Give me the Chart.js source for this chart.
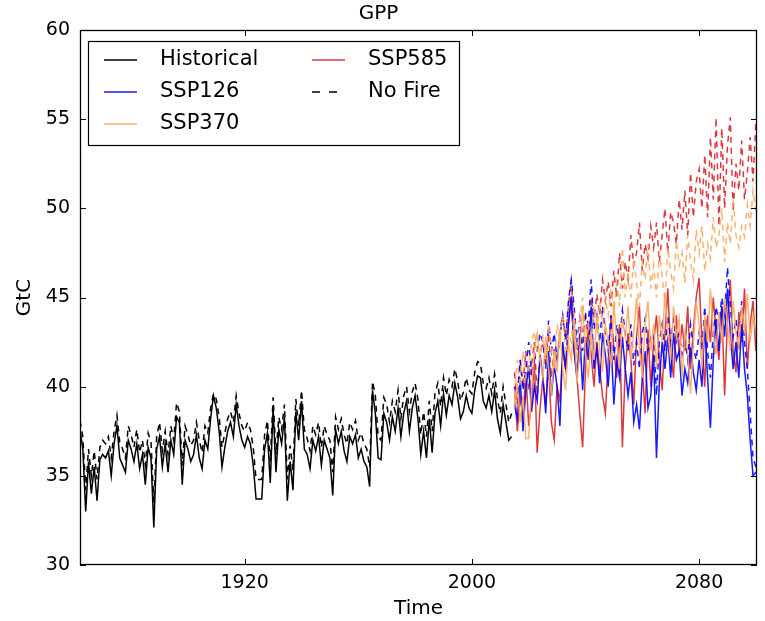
<!DOCTYPE html>
<html>
<head>
<meta charset="utf-8">
<script src="https://cdn.jsdelivr.net/npm/chart.js@4/dist/chart.umd.min.js"></script>
<style>
  html, body { margin: 0; padding: 0; background: #fff; }
  #gpp { display: block; }
</style>
</head>
<body>
<canvas id="gpp" width="765" height="621"></canvas>
<script>
// years
const histStart = 1862
const sspStart = 2015
const xTicks = [1920, 2000, 2080]

// historical GPP (GtC), 1862-2014
const histGpp = [
  37.6, 36.5, 33.0, 35.8, 34.0, 35.5, 33.6, 35.9, 36.2, 36.0,
  36.4, 35.0, 36.8, 37.8, 36.0, 35.6, 35.2, 37.0, 36.5, 35.8,
  36.8, 35.4, 36.2, 34.5, 36.6, 36.0, 32.1, 36.5, 37.2, 35.5,
  36.8, 35.2, 37.0, 36.2, 38.3, 38.0, 34.5, 37.0, 36.5, 35.8,
  36.2, 37.3, 36.0, 35.4, 37.0, 36.5, 38.2, 39.5, 38.8, 37.5,
  35.5, 36.6, 37.5, 38.0, 37.2, 39.0, 37.8, 37.0, 36.6, 37.2,
  36.8, 35.6, 33.7, 33.7, 33.7, 36.5, 37.4, 34.6, 38.8, 35.2,
  37.6, 36.8, 38.3, 33.6, 35.8, 34.2, 38.6, 37.0, 39.2, 36.5,
  36.2, 35.4, 37.0, 36.4, 37.2, 35.6, 37.0, 36.5, 36.0, 33.9,
  37.6, 36.8, 37.5, 36.4, 35.8, 37.2, 36.8, 37.3, 36.0, 36.5,
  35.8, 35.5, 34.4, 39.8, 38.5, 36.0, 35.9, 38.5, 38.0, 37.0,
  38.3, 37.5, 38.8, 37.2, 38.5, 39.2, 37.5, 38.8, 39.5, 38.2,
  36.2, 37.5, 36.0, 38.2, 36.3, 38.5, 39.2, 37.8, 39.6, 38.4,
  39.5, 39.0, 40.2, 39.4, 38.2, 38.6, 39.5, 38.8, 38.5, 39.8,
  40.6, 40.5, 39.2, 38.8, 39.5, 38.6, 39.8, 38.2, 37.4, 39.0,
  38.0, 37.0, 37.2
]
const histNoFire = [
  38.1, 37.2, 34.2, 36.5, 35.0, 36.4, 34.8, 36.6, 37.0, 36.8,
  37.2, 36.0, 37.5, 38.4, 36.9, 36.5, 36.0, 37.8, 37.3, 36.6,
  37.6, 36.3, 37.0, 35.6, 37.4, 36.9, 33.5, 37.2, 38.0, 36.4,
  37.5, 36.2, 37.8, 37.0, 39.1, 38.6, 35.6, 37.8, 37.3, 36.7,
  37.0, 38.0, 37.0, 36.3, 37.8, 37.4, 38.8, 39.6, 39.3, 38.3,
  36.6, 37.4, 38.2, 38.6, 38.0, 39.5, 38.5, 37.8, 37.5, 38.0,
  37.6, 36.6, 34.8, 34.8, 34.8, 37.3, 38.1, 35.8, 39.4, 36.2,
  38.3, 37.6, 39.0, 34.8, 36.7, 35.3, 39.3, 37.8, 39.8, 37.6,
  37.1, 36.4, 37.8, 37.3, 38.0, 36.6, 37.8, 37.3, 37.0, 35.2,
  38.3, 37.6, 38.2, 37.3, 36.8, 38.0, 37.6, 38.1, 37.0, 37.4,
  36.8, 36.5, 35.5, 40.3, 39.5, 37.2, 37.0, 39.4, 39.0, 38.0,
  39.2, 38.6, 39.8, 38.2, 39.5, 40.0, 38.6, 39.7, 40.2, 39.3,
  37.3, 38.6, 37.2, 39.2, 37.5, 39.6, 40.2, 38.9, 40.5, 39.5,
  40.4, 40.0, 41.0, 40.3, 39.2, 39.7, 40.5, 39.8, 39.6, 40.8,
  41.4, 41.3, 40.2, 39.9, 40.5, 39.6, 40.7, 39.3, 38.5, 40.0,
  39.0, 38.0, 38.5
]

// scenarios, 2015-2100
const ssp126 = [
  39.0, 38.2, 40.5, 37.5, 39.8, 41.2, 38.6, 40.0, 39.2, 41.8,
  40.5, 38.5, 42.0, 39.5, 41.2, 40.0, 37.8, 42.5, 41.0, 43.5,
  45.0, 42.0, 40.5, 43.0, 39.8, 42.8, 41.5, 44.5, 41.0, 42.2,
  40.2, 43.0, 41.8, 40.0, 42.5, 39.0, 41.5, 40.5, 42.8, 41.0,
  39.5, 40.8, 38.0, 39.0, 37.6, 40.5, 42.0, 38.8, 39.5, 41.8,
  36.0, 40.2, 42.5, 41.0, 42.8, 40.5, 43.0, 41.5, 42.0, 39.5,
  41.0, 40.2, 42.2, 40.8, 39.8, 41.5, 40.0, 43.5, 40.5, 37.7,
  41.5, 43.8, 42.0, 44.5, 42.8, 45.5, 43.0, 41.0, 42.5, 40.5,
  43.5, 41.0, 39.5, 37.0, 35.0, 35.2
]
const ssp126NoFire = [
  40.0, 39.5, 41.5, 39.8, 41.0, 42.5, 40.8, 41.5, 42.0, 43.0,
  42.5, 41.0, 43.7, 42.0, 43.0, 41.5, 42.8, 44.0, 42.5, 44.8,
  46.0, 44.5, 42.5, 43.8, 42.0, 44.0, 43.5, 46.0, 43.2, 44.0,
  42.5, 44.5, 43.0, 42.0, 44.0, 41.5, 43.5, 42.5, 44.3, 43.0,
  42.0, 43.5, 41.2, 42.5, 41.0, 43.0, 43.8, 42.0, 42.8, 43.0,
  39.5, 42.5, 43.5, 42.0, 44.0, 42.5, 43.8, 42.5, 43.0, 41.8,
  42.8, 41.5, 43.5, 42.2, 41.5, 43.0, 42.0, 44.5, 42.0, 40.5,
  43.0, 44.5, 43.5, 45.0, 44.0, 46.7, 44.5, 42.8, 43.8, 42.0,
  44.8, 42.5, 41.0, 38.5, 36.0, 35.5
]
const ssp370 = [
  38.8, 40.2, 38.0, 39.5, 37.1, 37.1, 39.8, 42.0, 43.0, 41.5,
  40.5, 42.8, 41.0, 39.5, 42.0, 40.8, 43.2, 41.0, 39.8, 42.5,
  41.5, 43.5, 40.2, 42.0, 44.5, 41.8, 40.5, 43.0, 41.5, 44.0,
  42.0, 40.8, 43.5, 42.5, 41.2, 44.8, 42.5, 41.0, 43.8, 42.8,
  44.5, 41.5, 43.0, 45.0, 42.2, 40.5, 43.5, 44.8, 42.0, 43.5,
  41.0, 44.0, 42.5, 45.2, 43.0, 41.5, 44.5, 42.8, 43.8, 40.5,
  43.0, 42.0, 39.6, 42.5, 44.8, 43.5, 41.0, 44.0, 42.5, 45.5,
  43.0, 41.8, 44.2, 42.5, 45.0, 43.5, 42.0, 44.8, 43.0, 42.2,
  44.5, 43.0, 45.2, 42.5, 44.0, 43.0
]
const ssp370NoFire = [
  39.5, 41.5, 40.0, 42.0, 40.5, 41.0, 42.5, 43.1, 42.0, 41.5,
  42.8, 41.5, 43.5, 42.0, 41.0, 43.5, 42.5, 44.0, 41.8, 43.0,
  42.5, 44.2, 41.5, 43.8, 45.0, 42.5, 43.5, 42.0, 44.5, 43.0,
  44.8, 43.5, 45.0, 44.0, 45.5, 44.2, 45.8, 44.5, 47.8, 45.0,
  46.5, 45.0, 47.2, 45.8, 44.5, 47.0, 46.0, 48.0, 45.5, 46.8,
  45.0, 47.5, 46.2, 44.8, 47.8, 46.5, 45.5, 48.2, 46.8, 47.5,
  45.8, 48.5, 47.0, 46.0, 48.8, 47.5, 49.0, 46.5, 48.0, 47.2,
  49.5, 47.8, 48.5, 50.0, 47.0, 49.2, 48.0, 50.5, 48.5, 47.8,
  49.0, 48.4, 50.2, 49.0, 51.0, 49.9
]
const ssp585 = [
  40.0, 37.5, 39.5, 38.2, 40.8, 37.8, 39.0, 41.5, 36.3, 38.8,
  40.5, 39.0, 41.2, 38.0, 37.0, 40.0, 39.2, 42.0, 41.0, 43.5,
  45.1, 42.0, 40.5, 38.5, 36.6, 41.0, 43.5, 41.8, 40.0, 42.5,
  41.0, 39.5, 38.5, 41.5, 44.0, 42.2, 40.5, 43.5, 36.6, 41.0,
  43.0, 41.5, 39.0, 42.8, 44.5, 41.0, 38.5, 43.2, 40.0, 42.5,
  44.0, 41.5, 39.8, 43.0, 45.5, 42.0, 40.5, 44.0, 41.8, 43.5,
  42.0, 44.5, 41.0, 43.2, 45.0, 46.1, 42.5, 40.0, 44.0, 42.5,
  45.0, 43.0, 41.5, 44.5, 39.5, 43.8, 46.0, 42.0, 40.8, 44.2,
  42.5, 45.5, 41.0, 43.5, 44.8, 42.0
]
const ssp585NoFire = [
  40.8, 39.0, 41.5, 40.2, 42.0, 39.8, 41.2, 42.5, 39.5, 41.8,
  42.5, 41.2, 43.0, 40.5, 42.2, 41.5, 43.2, 44.0, 42.8, 44.5,
  46.0, 43.5, 42.2, 41.5, 43.0, 44.2, 42.5, 45.0, 43.8, 45.2,
  44.0, 46.0, 44.8, 45.9, 44.5, 46.5, 45.0, 47.5, 45.5, 47.0,
  46.0, 48.5, 46.8, 47.5, 49.2, 46.5, 48.0, 47.2, 49.0, 47.8,
  49.2, 47.0, 48.5, 50.0, 47.5, 49.8, 49.2, 48.0, 50.5, 48.8,
  51.0, 48.5, 52.0, 49.5, 51.5, 52.2, 50.0, 53.0, 49.5, 54.0,
  50.5, 55.1, 49.0, 54.5, 50.0, 53.5, 55.1, 49.8, 52.5, 51.0,
  53.8, 50.5, 52.0, 54.0, 51.5, 54.9
]

const BLUE = 'rgba(0,0,255,0.9)'
const ORANGE = 'rgba(253,170,96,0.9)'
const RED = 'rgba(214,30,36,0.88)'
const DASH = [6, 5]
const FONT = 'DejaVu Sans'

function toXY(start, vals) {
    return vals.map((v, i) => ({x: start + i, y: v}))
}

function line(label, start, vals, color, dashed) {
    return {
        label: label,
        data: toXY(start, vals),
        borderColor: color,
        borderWidth: 1.5,
        borderDash: dashed ? DASH : [],
        pointRadius: 0,
        fill: false,
        tension: 0
    }
}

const datasets = [
    line('Historical', histStart, histGpp, '#000', false),
    line('Historical no fire', histStart, histNoFire, '#000', true),
    line('SSP370', sspStart, ssp370, ORANGE, false),
    line('SSP370 no fire', sspStart, ssp370NoFire, ORANGE, true),
    line('SSP126', sspStart, ssp126, BLUE, false),
    line('SSP126 no fire', sspStart, ssp126NoFire, BLUE, true),
    line('SSP585', sspStart, ssp585, RED, false),
    line('SSP585 no fire', sspStart, ssp585NoFire, RED, true)
]

// legend entries, two columns like the original figure
const legendCols = [
    [['Historical', '#000', false], ['SSP126', BLUE, false], ['SSP370', ORANGE, false]],
    [['SSP585', RED, false], ['No Fire', '#000', true]]
]

// box frame + inward ticks on all four sides
const framePlugin = {
    id: 'frame',
    afterDatasetsDraw(chart) {
        const {ctx, chartArea: a, scales} = chart
        const x = scales.x, y = scales.y
        ctx.save()
        ctx.strokeStyle = '#000'
        ctx.lineWidth = 1
        ctx.setLineDash([])
        ctx.beginPath()
        x.ticks.forEach(t => {
            const px = Math.round(x.getPixelForValue(t.value)) + 0.5
            ctx.moveTo(px, a.bottom); ctx.lineTo(px, a.bottom - 6)
            ctx.moveTo(px, a.top); ctx.lineTo(px, a.top + 6)
        })
        y.ticks.forEach(t => {
            const py = Math.round(y.getPixelForValue(t.value)) + 0.5
            ctx.moveTo(a.left, py); ctx.lineTo(a.left + 6, py)
            ctx.moveTo(a.right, py); ctx.lineTo(a.right - 6, py)
        })
        ctx.stroke()
        ctx.lineWidth = 1.3
        ctx.strokeRect(Math.round(a.left) + 0.5, Math.round(a.top) + 0.5,
                       Math.round(a.right - a.left) - 1, Math.round(a.bottom - a.top) - 1)

        // legend box
        const bx = a.left + 8, by = a.top + 11, bw = 371, bh = 104
        ctx.fillStyle = '#fff'
        ctx.fillRect(bx, by, bw, bh)
        ctx.lineWidth = 1.2
        ctx.strokeRect(bx + 0.5, by + 0.5, bw, bh)
        ctx.font = '21px "' + FONT + '"'
        ctx.textBaseline = 'middle'
        ctx.fillStyle = '#000'
        const colX = [bx + 16, bx + 224]
        legendCols.forEach((col, ci) => {
            col.forEach((item, ri) => {
                const ly = by + 19 + ri * 32
                ctx.beginPath()
                ctx.strokeStyle = item[1]
                ctx.lineWidth = 1.5
                ctx.setLineDash(item[2] ? [8, 9] : [])
                ctx.moveTo(colX[ci], ly); ctx.lineTo(colX[ci] + 33, ly)
                ctx.stroke()
                ctx.setLineDash([])
                ctx.fillText(item[0], colX[ci] + 56, ly)
            })
        })
        ctx.restore()
    }
}

const chart = new Chart(document.getElementById('gpp').getContext('2d'), {
    type: 'line',
    data: {datasets: datasets},
    options: {
        responsive: false,
        animation: false,
        devicePixelRatio: 1,
        layout: {padding: {left: 0, right: 8, top: 0, bottom: 0}},
        plugins: {
            legend: {display: false},
            tooltip: {enabled: false},
            title: {display: true, text: 'GPP', color: '#000',
                    font: {family: FONT, size: 20, weight: 'normal'},
                    padding: {top: 2, bottom: 4}}
        },
        scales: {
            x: {
                type: 'linear',
                min: 1862,
                max: 2100.4,
                grid: {display: false, drawTicks: false},
                border: {display: false},
                afterBuildTicks: s => { s.ticks = xTicks.map(v => ({value: v})) },
                afterFit: s => { s.height = 56 },
                ticks: {color: '#000', padding: 7, maxRotation: 0,
                        font: {family: FONT, size: 19},
                        callback: v => String(v)},
                title: {display: true, text: 'Time', color: '#000',
                        font: {family: FONT, size: 20}, padding: {top: 2, bottom: 0}}
            },
            y: {
                min: 30,
                max: 60,
                grid: {display: false, drawTicks: false},
                border: {display: false},
                afterFit: s => { s.width = 80 },
                ticks: {stepSize: 5, color: '#000', padding: 10,
                        font: {family: FONT, size: 19}},
                title: {display: true, text: 'GtC', color: '#000',
                        font: {family: FONT, size: 20}, padding: {top: 13, bottom: 0}}
            }
        }
    },
    plugins: [framePlugin]
})
</script>
</body>
</html>
